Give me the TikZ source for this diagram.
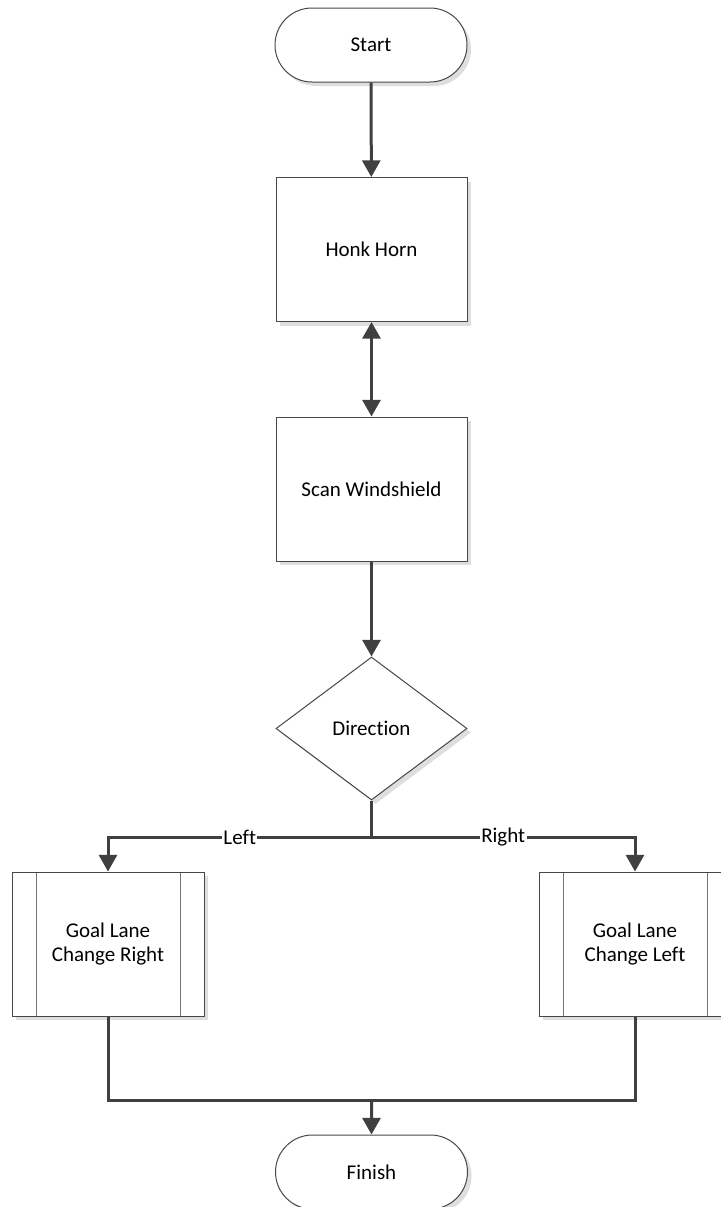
\documentclass[tikz,border=0pt]{standalone}
\usepackage{fontspec}
\setmainfont{Carlito}[Ligatures=NoCommon]
\usetikzlibrary{shapes.misc,shapes.geometric,arrows.meta,shadows}

\begin{document}
\begin{tikzpicture}[x=0.75pt,y=-0.75pt,
  font=\fontsize{15.75}{18}\selectfont,
  base/.style={draw=black!72, line width=0.75pt, fill=white, align=center, inner sep=0pt,
    drop shadow={shadow xshift=3pt, shadow yshift=-3pt, fill=black!13, opacity=1}},
  terminal/.style={base, rounded rectangle, minimum width=144pt, minimum height=55.5pt},
  process/.style={base, rectangle, minimum width=143.25pt, minimum height=108pt},
  decision/.style={base, diamond, minimum width=143.25pt, minimum height=107.25pt},
  predef/.style={base, rectangle, minimum width=144pt, minimum height=108pt,
    path picture={\draw[black!55, line width=0.75pt]
      ([xshift=18pt]path picture bounding box.north west) -- ([xshift=18pt]path picture bounding box.south west)
      ([xshift=-18pt]path picture bounding box.north east) -- ([xshift=-18pt]path picture bounding box.south east);}},
  flow/.style={draw=black!75, line width=2.25pt},
  tip/.tip={Triangle[width=13.5pt,length=12.5pt]},
  arr/.style={flow, -tip},
  lbl/.style={fill=white, inner sep=1pt}
]
\clip (0,0) rectangle (721,1207);
\fill[white] (0,0) rectangle (721,1207);

% steps of the flow
\node[terminal] (start) at (371,45) {Start};
\node[process] (honk) at (371.5,249.5) {Honk Horn};
\node[process] (scan) at (371.5,489) {Scan Windshield};
\node[decision] (dir) at (371.5,728.5) {Direction};
\node[predef] (gr) at (108,944) {Goal Lane\\Change Right};
\node[predef] (gl) at (635,944) {Goal Lane\\Change Left};
\node[terminal] (fin) at (371.5,1172) {Finish};

% branch and join points
\coordinate (split) at (371.5,837);
\coordinate (merge) at (371.5,1100);

% connectors
\draw[arr] (start) -- (honk);
\draw[flow, tip-tip] (honk) -- (scan);
\draw[arr] (scan) -- (dir);
\draw[flow] (dir.south) -- (split);
\draw[arr] (split) -| node[lbl, pos=0.25] {Left} (gr.north);
\draw[arr] (split) -| node[lbl, pos=0.25] {Right} (gl.north);
\draw[flow] (gr.south) |- (merge) -| (gl.south);
\draw[arr] (merge) -- (fin);
\end{tikzpicture}
\end{document}
